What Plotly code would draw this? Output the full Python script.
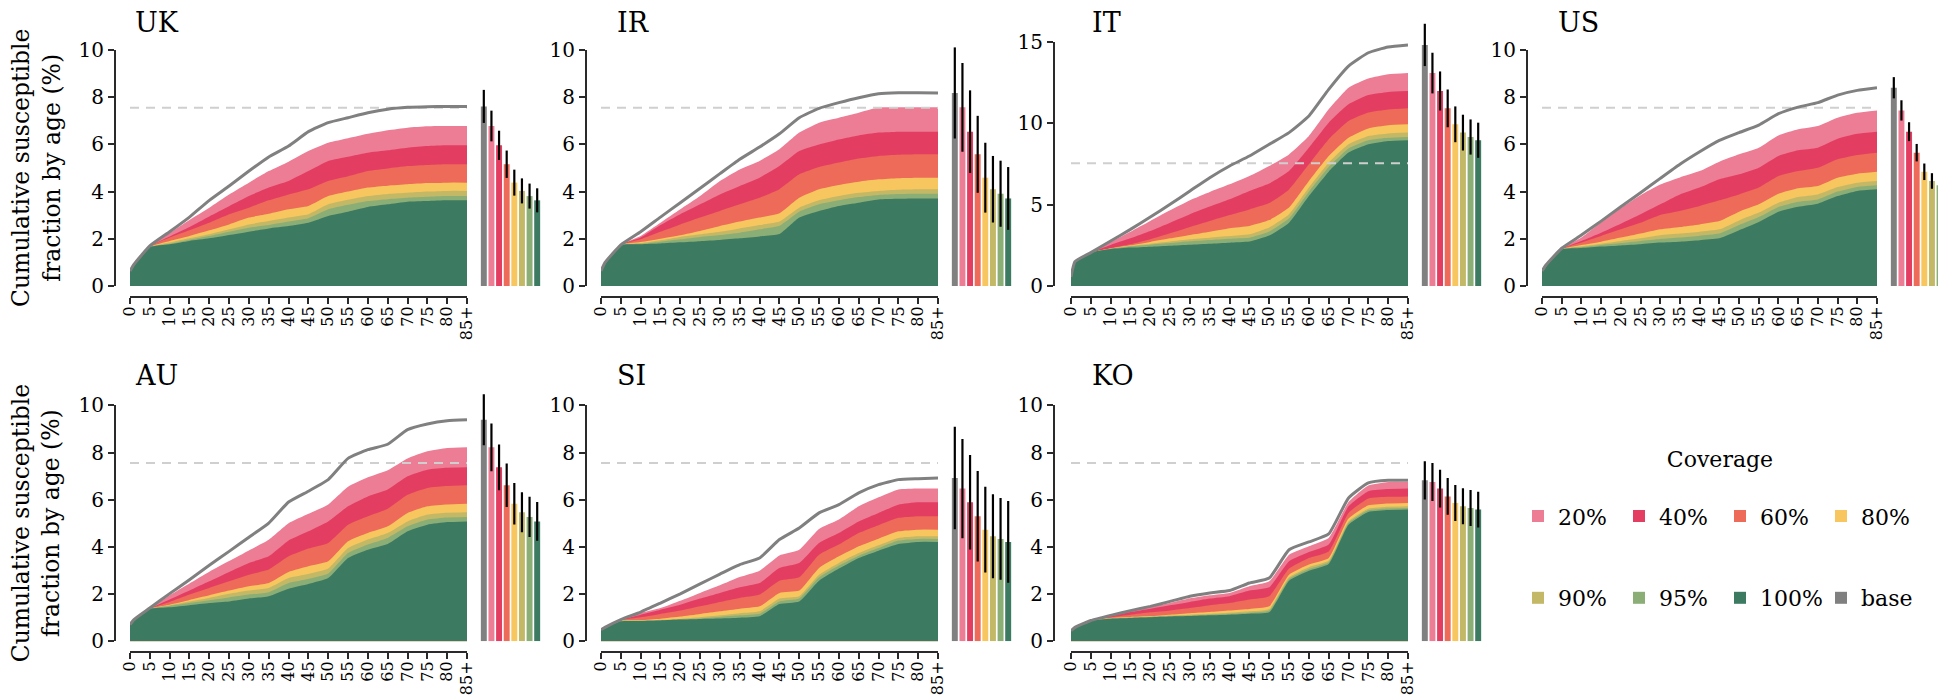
import plotly.graph_objects as go

# ---------------- data ----------------
AGES = [0, 1, 5, 10, 15, 20, 25, 30, 35, 40, 45, 50, 55, 60, 65, 70, 75, 80, 85]
TICK_AGES = [0, 5, 10, 15, 20, 25, 30, 35, 40, 45, 50, 55, 60, 65, 70, 75, 80, 85]
TICK_LABELS = ["0", "5", "10", "15", "20", "25", "30", "35", "40", "45", "50",
               "55", "60", "65", "70", "75", "80", "85+"]
COUNTRIES = ["UK", "IR", "IT", "US", "AU", "SI", "KO"]
LEVELS = ["base", "20%", "40%", "60%", "80%", "90%", "95%", "100%"]
REF_LEVEL = 7.55

UK_BASE = [0.64, 0.92, 1.7, 2.3, 2.92, 3.63, 4.24, 4.87, 5.47, 5.93, 6.54, 6.92, 7.13, 7.34, 7.49, 7.57, 7.6, 7.61, 7.61]
UK_C20 = [0.64, 0.92, 1.68, 2.25, 2.8, 3.32, 3.88, 4.38, 4.87, 5.27, 5.72, 6.07, 6.26, 6.45, 6.6, 6.71, 6.77, 6.78, 6.78]
UK_C40 = [0.64, 0.92, 1.68, 2.1, 2.5, 2.95, 3.38, 3.81, 4.17, 4.45, 4.87, 5.3, 5.48, 5.65, 5.75, 5.86, 5.93, 5.96, 5.96]
UK_C60 = [0.64, 0.92, 1.67, 2.05, 2.36, 2.68, 3.04, 3.32, 3.63, 3.88, 4.1, 4.45, 4.65, 4.87, 4.98, 5.08, 5.13, 5.16, 5.16]
UK_C80 = [0.64, 0.92, 1.66, 1.91, 2.12, 2.36, 2.61, 2.9, 3.06, 3.25, 3.39, 3.81, 4.0, 4.17, 4.25, 4.31, 4.36, 4.38, 4.38]
UK_C90 = [0.64, 0.92, 1.65, 1.84, 2.02, 2.19, 2.4, 2.61, 2.75, 2.9, 3.04, 3.46, 3.65, 3.81, 3.9, 3.95, 4.0, 4.03, 4.03]
UK_C95 = [0.64, 0.92, 1.65, 1.79, 1.96, 2.12, 2.3, 2.47, 2.58, 2.73, 2.87, 3.25, 3.44, 3.6, 3.68, 3.74, 3.78, 3.81, 3.81]
UK_C100 = [0.64, 0.92, 1.65, 1.77, 1.91, 2.02, 2.16, 2.3, 2.44, 2.54, 2.68, 2.97, 3.15, 3.35, 3.46, 3.57, 3.6, 3.63, 3.63]
UK_ERR = [0.7, 0.65, 0.62, 0.58, 0.55, 0.53, 0.53, 0.51]

IR_BASE = [0.64, 0.99, 1.74, 2.3, 2.92, 3.53, 4.14, 4.76, 5.37, 5.89, 6.45, 7.13, 7.53, 7.77, 7.98, 8.15, 8.19, 8.19, 8.18]
IR_C20 = [0.64, 0.99, 1.74, 2.12, 2.68, 3.25, 3.81, 4.45, 4.94, 5.3, 5.79, 6.5, 6.92, 7.13, 7.34, 7.56, 7.57, 7.57, 7.57]
IR_C40 = [0.64, 0.99, 1.74, 2.05, 2.58, 3.04, 3.46, 3.88, 4.24, 4.59, 5.08, 5.72, 6.0, 6.21, 6.38, 6.5, 6.54, 6.54, 6.54]
IR_C60 = [0.64, 0.99, 1.74, 1.98, 2.3, 2.61, 2.9, 3.18, 3.46, 3.74, 4.1, 4.73, 5.04, 5.23, 5.4, 5.51, 5.56, 5.58, 5.58]
IR_C80 = [0.64, 0.99, 1.74, 1.86, 2.0, 2.15, 2.33, 2.54, 2.73, 2.9, 3.08, 3.74, 4.1, 4.28, 4.42, 4.52, 4.57, 4.59, 4.59]
IR_C90 = [0.64, 0.99, 1.74, 1.82, 1.94, 2.08, 2.19, 2.3, 2.44, 2.58, 2.73, 3.32, 3.63, 3.81, 3.95, 4.03, 4.08, 4.1, 4.1]
IR_C95 = [0.64, 0.99, 1.74, 1.79, 1.88, 1.98, 2.08, 2.16, 2.26, 2.4, 2.55, 3.15, 3.46, 3.63, 3.77, 3.86, 3.9, 3.91, 3.91]
IR_C100 = [0.64, 0.99, 1.74, 1.77, 1.8, 1.85, 1.9, 1.95, 2.02, 2.1, 2.2, 2.9, 3.18, 3.39, 3.53, 3.67, 3.7, 3.71, 3.71]
IR_ERR = [1.93, 1.88, 1.75, 1.63, 1.48, 1.41, 1.4, 1.33]

IT_BASE = [0.55, 1.5, 2.05, 2.77, 3.48, 4.24, 5.02, 5.84, 6.66, 7.38, 7.99, 8.71, 9.43, 10.45, 12.09, 13.52, 14.34, 14.69, 14.82]
IT_C20 = [0.55, 1.5, 2.05, 2.7, 3.34, 4.0, 4.65, 5.27, 5.78, 6.25, 6.76, 7.38, 8.09, 9.22, 10.86, 12.19, 12.75, 13.01, 13.09]
IT_C40 = [0.55, 1.5, 2.05, 2.52, 2.93, 3.38, 3.89, 4.41, 4.88, 5.33, 5.84, 6.3, 7.07, 8.5, 10.04, 11.17, 11.74, 11.93, 11.99]
IT_C60 = [0.55, 1.5, 2.05, 2.32, 2.56, 2.87, 3.24, 3.63, 4.0, 4.36, 4.71, 5.1, 5.94, 7.48, 9.02, 10.14, 10.66, 10.85, 10.92]
IT_C80 = [0.55, 1.5, 2.05, 2.3, 2.5, 2.71, 2.93, 3.14, 3.34, 3.55, 3.69, 4.05, 4.82, 6.45, 7.99, 9.12, 9.69, 9.88, 9.94]
IT_C90 = [0.55, 1.5, 2.05, 2.3, 2.46, 2.6, 2.73, 2.87, 2.97, 3.07, 3.18, 3.6, 4.41, 6.05, 7.58, 8.71, 9.22, 9.38, 9.43]
IT_C95 = [0.55, 1.5, 2.05, 2.29, 2.44, 2.54, 2.64, 2.75, 2.83, 2.91, 2.97, 3.35, 4.16, 5.8, 7.32, 8.46, 8.96, 9.11, 9.16]
IT_C100 = [0.55, 1.5, 2.05, 2.27, 2.36, 2.42, 2.48, 2.54, 2.6, 2.66, 2.73, 3.1, 3.89, 5.53, 7.03, 8.2, 8.71, 8.91, 8.96]
IT_ERR = [1.3, 1.25, 1.2, 1.16, 1.1, 1.1, 1.08, 1.08]

US_BASE = [0.64, 0.89, 1.6, 2.16, 2.75, 3.36, 3.95, 4.56, 5.16, 5.69, 6.17, 6.5, 6.82, 7.3, 7.58, 7.77, 8.09, 8.29, 8.4]
US_C20 = [0.64, 0.89, 1.58, 2.05, 2.7, 3.3, 3.85, 4.3, 4.6, 4.87, 5.27, 5.58, 5.86, 6.38, 6.64, 6.78, 7.13, 7.34, 7.44]
US_C40 = [0.64, 0.89, 1.57, 1.91, 2.26, 2.64, 3.04, 3.46, 3.88, 4.17, 4.52, 4.73, 5.01, 5.51, 5.75, 5.86, 6.24, 6.45, 6.54]
US_C60 = [0.64, 0.89, 1.56, 1.84, 2.12, 2.4, 2.68, 3.01, 3.18, 3.39, 3.63, 3.88, 4.17, 4.66, 4.87, 5.01, 5.37, 5.55, 5.65]
US_C80 = [0.64, 0.89, 1.56, 1.74, 1.88, 2.05, 2.22, 2.4, 2.5, 2.61, 2.75, 3.15, 3.46, 3.91, 4.14, 4.24, 4.59, 4.76, 4.84]
US_C90 = [0.64, 0.89, 1.55, 1.68, 1.79, 1.91, 2.02, 2.15, 2.22, 2.3, 2.4, 2.78, 3.11, 3.53, 3.77, 3.88, 4.19, 4.38, 4.45]
US_C95 = [0.64, 0.89, 1.55, 1.65, 1.74, 1.82, 1.91, 1.99, 2.05, 2.13, 2.22, 2.58, 2.92, 3.35, 3.57, 3.67, 4.0, 4.2, 4.27]
US_C100 = [0.64, 0.89, 1.55, 1.61, 1.67, 1.72, 1.77, 1.84, 1.88, 1.94, 2.02, 2.36, 2.71, 3.15, 3.36, 3.49, 3.81, 4.03, 4.1]
US_ERR = [0.45, 0.43, 0.4, 0.37, 0.35, 0.33, 0.33, 0.34]

AU_BASE = [0.71, 0.92, 1.41, 2.02, 2.61, 3.22, 3.81, 4.41, 5.01, 5.9, 6.36, 6.85, 7.75, 8.12, 8.35, 8.97, 9.21, 9.35, 9.39]
AU_C20 = [0.71, 0.92, 1.38, 1.95, 2.45, 2.95, 3.4, 3.85, 4.3, 5.0, 5.4, 5.8, 6.55, 6.95, 7.25, 7.75, 8.05, 8.19, 8.22]
AU_C40 = [0.71, 0.92, 1.38, 1.77, 2.15, 2.54, 2.94, 3.32, 3.6, 4.27, 4.66, 5.08, 5.72, 6.14, 6.43, 6.99, 7.27, 7.35, 7.37]
AU_C60 = [0.71, 0.92, 1.38, 1.67, 1.98, 2.26, 2.54, 2.82, 3.04, 3.6, 3.93, 4.17, 4.94, 5.3, 5.62, 6.21, 6.5, 6.58, 6.61]
AU_C80 = [0.71, 0.92, 1.38, 1.55, 1.75, 1.95, 2.15, 2.33, 2.47, 2.94, 3.18, 3.39, 4.24, 4.59, 4.87, 5.44, 5.72, 5.8, 5.83]
AU_C90 = [0.71, 0.92, 1.38, 1.53, 1.69, 1.84, 2.01, 2.15, 2.26, 2.68, 2.85, 3.08, 3.95, 4.31, 4.59, 5.08, 5.37, 5.45, 5.47]
AU_C95 = [0.71, 0.92, 1.38, 1.5, 1.62, 1.74, 1.86, 1.98, 2.08, 2.47, 2.64, 2.87, 3.74, 4.1, 4.38, 4.87, 5.16, 5.25, 5.27]
AU_C100 = [0.71, 0.92, 1.37, 1.44, 1.53, 1.62, 1.69, 1.81, 1.91, 2.23, 2.43, 2.68, 3.53, 3.88, 4.12, 4.66, 4.94, 5.05, 5.08]
AU_ERR = [1.08, 1.01, 0.97, 0.92, 0.88, 0.85, 0.85, 0.82]

SI_BASE = [0.49, 0.59, 0.92, 1.24, 1.62, 2.01, 2.43, 2.85, 3.25, 3.53, 4.31, 4.8, 5.44, 5.79, 6.29, 6.64, 6.85, 6.89, 6.92]
SI_C20 = [0.49, 0.59, 0.92, 1.2, 1.41, 1.72, 2.05, 2.37, 2.72, 2.99, 3.64, 3.88, 4.76, 5.16, 5.72, 6.1, 6.43, 6.47, 6.47]
SI_C40 = [0.49, 0.59, 0.92, 1.13, 1.34, 1.55, 1.81, 2.05, 2.29, 2.47, 3.11, 3.32, 4.17, 4.59, 5.08, 5.44, 5.79, 5.89, 5.89]
SI_C60 = [0.49, 0.59, 0.9, 1.02, 1.16, 1.3, 1.48, 1.67, 1.84, 1.98, 2.57, 2.71, 3.67, 4.1, 4.59, 4.92, 5.23, 5.3, 5.3]
SI_C80 = [0.49, 0.59, 0.88, 0.9, 0.96, 1.05, 1.16, 1.27, 1.38, 1.48, 2.05, 2.15, 3.11, 3.6, 4.03, 4.35, 4.66, 4.73, 4.73]
SI_C90 = [0.49, 0.59, 0.87, 0.88, 0.91, 0.95, 1.02, 1.1, 1.19, 1.27, 1.81, 1.91, 2.82, 3.32, 3.74, 4.07, 4.38, 4.45, 4.45]
SI_C95 = [0.49, 0.59, 0.86, 0.87, 0.89, 0.93, 0.97, 1.03, 1.1, 1.17, 1.69, 1.81, 2.71, 3.21, 3.63, 3.95, 4.27, 4.34, 4.34]
SI_C100 = [0.49, 0.59, 0.85, 0.86, 0.88, 0.92, 0.95, 0.97, 1.0, 1.06, 1.58, 1.69, 2.57, 3.08, 3.53, 3.84, 4.12, 4.21, 4.21]
SI_ERR = [2.17, 2.1, 2.0, 1.92, 1.82, 1.78, 1.73, 1.73]

KO_BASE = [0.45, 0.59, 0.88, 1.1, 1.3, 1.48, 1.69, 1.91, 2.05, 2.15, 2.47, 2.68, 3.88, 4.21, 4.55, 6.07, 6.71, 6.82, 6.82]
KO_C20 = [0.45, 0.59, 0.88, 1.1, 1.28, 1.45, 1.62, 1.82, 1.95, 2.05, 2.33, 2.54, 3.67, 4.03, 4.38, 5.9, 6.6, 6.75, 6.75]
KO_C40 = [0.45, 0.59, 0.88, 1.06, 1.24, 1.38, 1.53, 1.67, 1.81, 1.91, 2.15, 2.29, 3.39, 3.78, 4.1, 5.72, 6.36, 6.45, 6.47]
KO_C60 = [0.45, 0.59, 0.88, 1.02, 1.13, 1.23, 1.31, 1.41, 1.53, 1.62, 1.77, 1.91, 3.08, 3.53, 3.81, 5.44, 6.05, 6.12, 6.14]
KO_C80 = [0.45, 0.59, 0.88, 0.99, 1.03, 1.07, 1.13, 1.19, 1.24, 1.3, 1.37, 1.48, 2.82, 3.25, 3.53, 5.2, 5.76, 5.84, 5.86]
KO_C90 = [0.45, 0.59, 0.88, 0.97, 1.02, 1.05, 1.09, 1.13, 1.17, 1.21, 1.27, 1.37, 2.71, 3.14, 3.42, 5.08, 5.62, 5.7, 5.72]
KO_C95 = [0.45, 0.59, 0.88, 0.96, 1.0, 1.03, 1.06, 1.09, 1.13, 1.17, 1.21, 1.3, 2.64, 3.06, 3.35, 5.01, 5.55, 5.63, 5.65]
KO_C100 = [0.45, 0.59, 0.88, 0.96, 0.99, 1.02, 1.05, 1.07, 1.1, 1.13, 1.17, 1.23, 2.57, 2.99, 3.28, 4.94, 5.48, 5.56, 5.58]
KO_ERR = [0.81, 0.81, 0.8, 0.78, 0.76, 0.76, 0.76, 0.76]

G = globals()
SERIES = {c: {"base": G[c + "_BASE"], "20%": G[c + "_C20"], "40%": G[c + "_C40"],
              "60%": G[c + "_C60"], "80%": G[c + "_C80"], "90%": G[c + "_C90"],
              "95%": G[c + "_C95"], "100%": G[c + "_C100"]} for c in COUNTRIES}
ERRORS = {c: G[c + "_ERR"] for c in COUNTRIES}

# ---------------- style / layout ----------------
COLORS = {"base": "#808080", "20%": "#ED7C95", "40%": "#E43D62", "60%": "#EE6A59",
          "80%": "#F7C65E", "90%": "#C3B866", "95%": "#8BAE76", "100%": "#3D7A62"}
FONT = "DejaVu Serif"
W, H = 1946, 695
AXC = "#2a2a2a"

# column geometry (px): y-axis line x, area x0, area x1, bar x0, bar x1, title x
COLS = [(107, 122, 459, 472, 533, 125),
        (578, 593, 930, 943, 1004, 607),
        (1046, 1063, 1400, 1413, 1474, 1082),
        (1519, 1534, 1869, 1882, 1943, 1548)]
# row geometry (px): zero line y, px per unit (for 0-10 panels), x axis line y, title y
ROWS = [(278.0, 23.6, 289, 15), (633.3, 23.6, 644, 367)]
YMAX = {c: 10 for c in COUNTRIES}
YMAX["IT"] = 15
YTICKS = {c: [0, 2, 4, 6, 8, 10] for c in COUNTRIES}
YTICKS["IT"] = [0, 5, 10, 15]


def px_x(p):
    return p / W


def px_y(p):
    return 1 - p / H


fig = go.Figure()
layout = {}
annotations = []

for i, c in enumerate(COUNTRIES):
    r, k = divmod(i, 4)
    yax_x, ax0, ax1, bx0, bx1, tx = COLS[k]
    zero_y, ppu, xline_y, ty = ROWS[r]
    if c == "IT":
        top_px = 34.0
    else:
        top_px = zero_y - YMAX[c] * ppu
    ppu_c = (zero_y - top_px) / YMAX[c]

    na, nb = 2 * i + 1, 2 * i + 2
    xa = "x" if na == 1 else f"x{na}"
    ya = "y" if na == 1 else f"y{na}"
    xb, yb = f"x{nb}", f"y{nb}"
    ka = "xaxis" if na == 1 else f"xaxis{na}"
    kya = "yaxis" if na == 1 else f"yaxis{na}"

    # areas: lowest coverage (highest curve) first
    for lv in ["20%", "40%", "60%", "80%", "90%", "95%", "100%"]:
        fig.add_trace(go.Scatter(
            x=AGES, y=SERIES[c][lv], mode="lines", fill="tozeroy",
            line=dict(width=0, shape="spline", smoothing=0.45, color=COLORS[lv]),
            fillcolor=COLORS[lv], xaxis=xa, yaxis=ya, showlegend=False,
            legendgroup=lv, name=lv, hoverinfo="x+y+name"))
    # reference dashed level
    fig.add_trace(go.Scatter(
        x=[AGES[0], AGES[-1]], y=[REF_LEVEL, REF_LEVEL], mode="lines",
        line=dict(color="#cfcfcf", width=2, dash="9px,7px"),
        xaxis=xa, yaxis=ya, showlegend=False, hoverinfo="skip"))
    # base curve
    fig.add_trace(go.Scatter(
        x=AGES, y=SERIES[c]["base"], mode="lines",
        line=dict(color=COLORS["base"], width=3, shape="spline", smoothing=0.45),
        xaxis=xa, yaxis=ya, showlegend=False, legendgroup="base", name="base"))

    # bars: final cumulative value of each curve, with uncertainty
    for j, lv in enumerate(LEVELS):
        lg = "legend2" if lv in ("90%", "95%", "100%", "base") else "legend"
        rank = {"base": 4, "90%": 1, "95%": 2, "100%": 3}.get(lv, j)
        fig.add_trace(go.Bar(
            x=[lv], y=[SERIES[c][lv][-1]], width=0.78,
            marker=dict(color=COLORS[lv], line=dict(width=0)),
            error_y=dict(type="data", array=[ERRORS[c][j]], color="black",
                         thickness=2.2, width=0),
            xaxis=xb, yaxis=yb, name=lv, legendgroup=lv, legend=lg,
            legendrank=rank, showlegend=(i == 0)))

    tickfont = dict(family=FONT, size=16, color="black")
    layout[ka] = dict(domain=[px_x(ax0), px_x(ax1)], range=[0, 85], anchor="free",
                      position=px_y(xline_y), tickvals=TICK_AGES, ticktext=TICK_LABELS,
                      tickangle=-90, ticks="outside", ticklen=6, tickwidth=2,
                      ticklabelstandoff=-4,
                      tickcolor=AXC, showline=True, linecolor=AXC, linewidth=2,
                      showgrid=False, zeroline=False, tickfont=tickfont)
    layout[kya] = dict(domain=[px_y(zero_y), px_y(top_px)], range=[0, YMAX[c]],
                       anchor="free", position=px_x(yax_x), tickvals=YTICKS[c],
                       ticks="outside", ticklen=6, tickwidth=2, tickcolor=AXC,
                       showline=True, linecolor=AXC, linewidth=2, showgrid=False,
                       zeroline=False, tickfont=dict(family=FONT, size=20, color="black"))
    bar_top = zero_y - 272.0
    layout[f"xaxis{nb}"] = dict(domain=[px_x(bx0), px_x(bx1)], anchor=yb, type="category",
                                categoryorder="array", categoryarray=LEVELS,
                                range=[-0.5, 7.5], visible=False)
    layout[f"yaxis{nb}"] = dict(domain=[px_y(zero_y), px_y(bar_top)], anchor=xb,
                                range=[0, (zero_y - bar_top) / ppu_c], visible=False)

    annotations.append(dict(text=c, x=px_x(tx), y=px_y(ty), xref="paper", yref="paper",
                            xanchor="left", yanchor="middle", showarrow=False,
                            font=dict(family=FONT, size=27, color="black")))

for r, (zero_y, ppu, _, _) in enumerate(ROWS):
    annotations.append(dict(text="Cumulative susceptible<br>fraction by age (%)",
                            x=px_x(28), y=px_y(zero_y - 5 * ppu), xref="paper", yref="paper",
                            textangle=-90, showarrow=False, xanchor="center", yanchor="middle",
                            font=dict(family=FONT, size=23.5, color="black")))

legend_common = dict(orientation="h", xanchor="left", bgcolor="rgba(0,0,0,0)",
                     font=dict(family=FONT, size=22, color="black"),
                     entrywidth=56, entrywidthmode="pixels", itemclick="toggle")
fig.update_layout(
    width=W, height=H, margin=dict(l=0, r=0, t=0, b=0, autoexpand=False),
    paper_bgcolor="white", plot_bgcolor="white", barmode="overlay",
    font=dict(family=FONT, color="black"),
    annotations=annotations, showlegend=True,
    legend=dict(x=px_x(1510), y=px_y(430), yanchor="top",
                title=dict(text="Coverage<br> ", side="top center",
                           font=dict(family=FONT, size=22, color="black")),
                **legend_common),
    legend2=dict(x=px_x(1510), y=px_y(590), yanchor="middle", **legend_common),
    **layout)

fig.write_html("out.html")
